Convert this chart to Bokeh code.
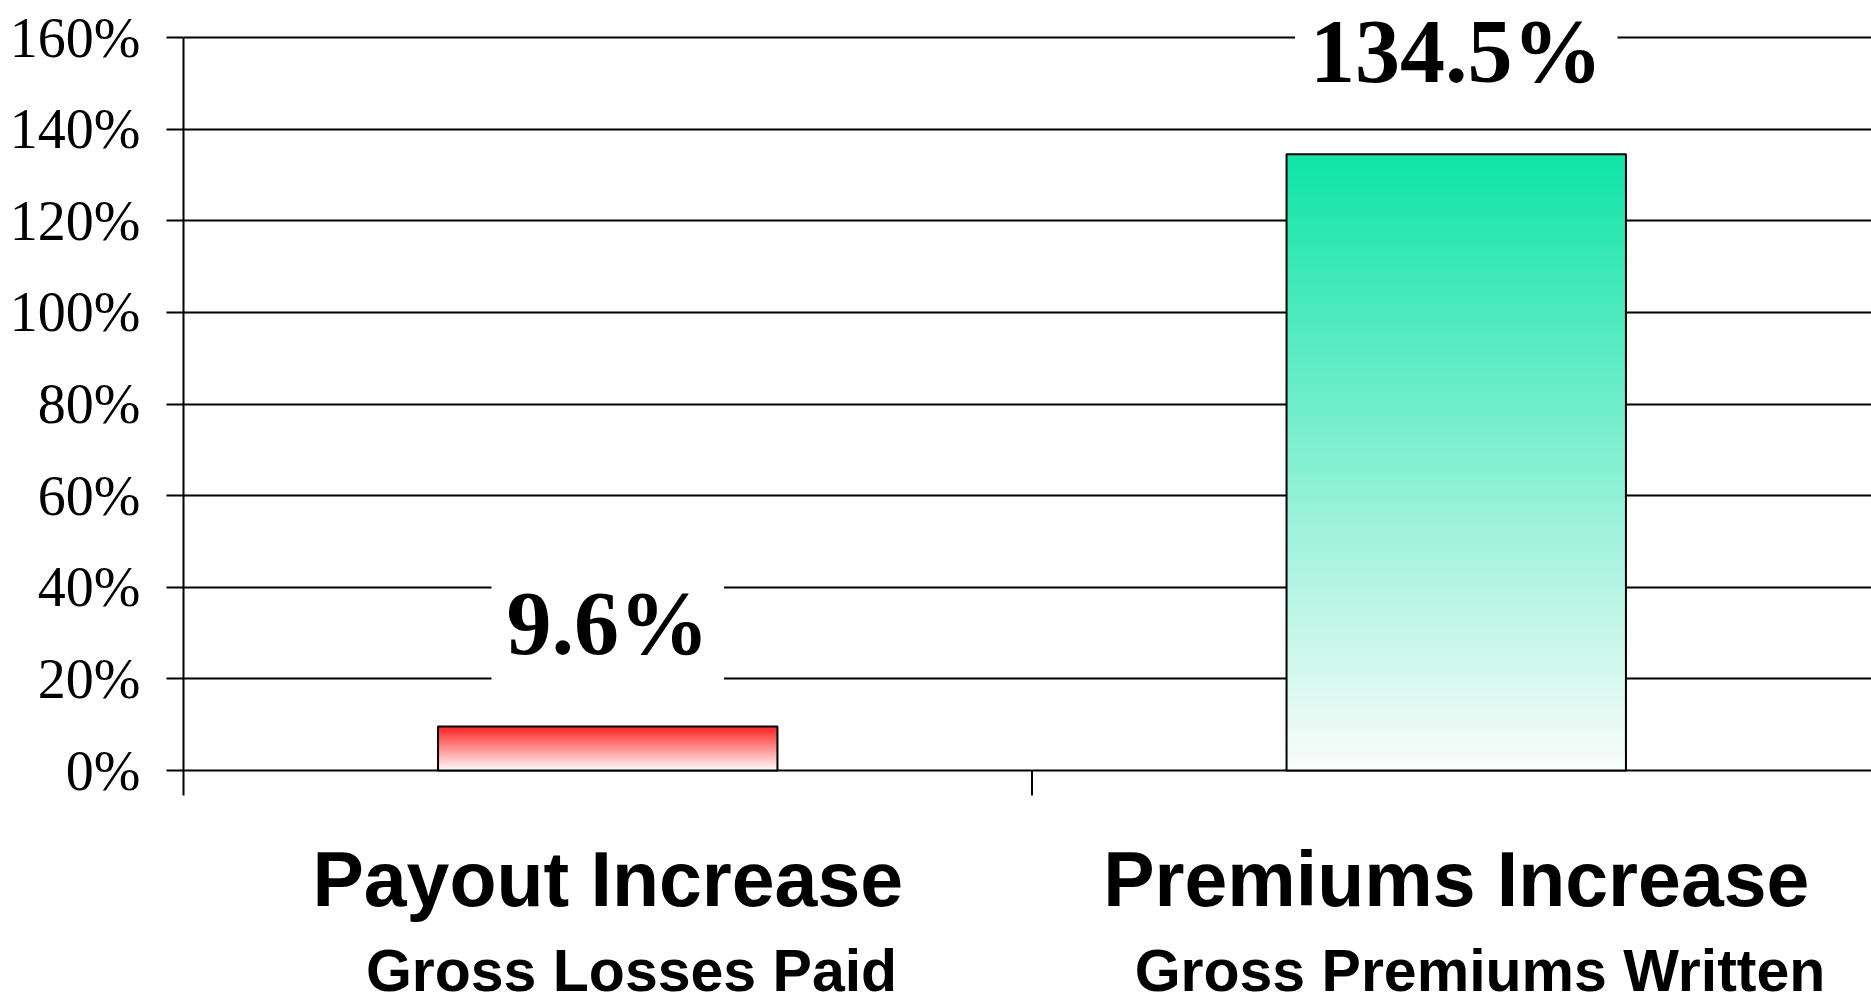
import numpy as np
from bokeh.plotting import figure
from bokeh.models import Range1d, FixedTicker, PrintfTickFormatter, ColumnDataSource
from bokeh.core.properties import value
from bokeh.embed import file_html
from bokeh.resources import INLINE

# ---- data ----
categories = ["Payout Increase", "Premiums Increase"]
subtitles = ["Gross Losses Paid", "Gross Premiums Written"]
increase_pct = [9.6, 134.5]
top_colors = [(255, 30, 30), (16, 228, 168)]
bottom_colors = [(255, 252, 252), (250, 252, 251)]
y_ticks = [0, 20, 40, 60, 80, 100, 120, 140, 160]

# ---- layout ----
W, H = 1871, 1005
LEFT = 183
ZERO_PX = 770            # screen row of the 0% line
TOP_PX = 37              # screen row of the 160% line
PX_PER_PCT = (ZERO_PX - TOP_PX) / y_ticks[-1]
Y_END = y_ticks[-1] + TOP_PX / PX_PER_PCT
Y_START = -(H - ZERO_PX) / PX_PER_PCT
X_END = 1.9894           # right edge of the frame, in category units
BAR_W = 0.4
SEP_TICK = 25            # length of the category separator ticks, px

centers = [i + 0.5 for i in range(len(categories))]
separators = list(range(1, len(categories)))
labels = [f"{v}%" for v in increase_pct]

p = figure(width=W, height=H, output_backend="svg", toolbar_location=None,
           x_range=Range1d(0, X_END), y_range=Range1d(Y_START, Y_END),
           min_border_left=LEFT, min_border_right=0, min_border_top=0,
           min_border_bottom=0, outline_line_color=None,
           background_fill_color="white", border_fill_color="white",
           x_axis_location=None)

# horizontal gridlines (the 0% line doubles as the category baseline)
p.xgrid.visible = False
p.ygrid.ticker = FixedTicker(ticks=y_ticks)
p.ygrid.grid_line_color = "black"
p.ygrid.grid_line_width = 2

# y axis, its line running on below 0% as the first separator tick
ya = p.yaxis[0]
ya.ticker = FixedTicker(ticks=y_ticks)
ya.formatter = PrintfTickFormatter(format="%d%%")
ya.bounds = (-SEP_TICK / PX_PER_PCT, y_ticks[-1])
ya.axis_line_width = 2
ya.major_tick_line_width = 2
ya.major_tick_out = 17
ya.major_tick_in = 0
ya.minor_tick_line_color = None
ya.major_label_standoff = 26
ya.major_label_text_font = "Liberation Serif"
ya.major_label_text_font_size = "56px"
ya.major_label_text_color = "black"

# separator ticks between categories
p.segment(x0=separators, y0=[0] * len(separators),
          x1=separators, y1=[-SEP_TICK / PX_PER_PCT] * len(separators),
          line_color="black", line_width=2)

# bars: vertical gradient fill as an RGBA image per bar, then outline
N = 256
for c, v, top, bot in zip(centers, increase_pct, top_colors, bottom_colors):
    img = np.empty((N, 2), dtype=np.uint32)
    view = img.view(dtype=np.uint8).reshape((N, 2, 4))
    t = np.linspace(0, 1, N)[:, None]
    for k in range(3):
        view[:, :, k] = np.round(bot[k] + (top[k] - bot[k]) * t).astype(np.uint8)
    view[:, :, 3] = 255
    p.image_rgba(image=[img], x=c - BAR_W / 2, y=0, dw=BAR_W, dh=v)

src = ColumnDataSource(dict(x=centers, top=increase_pct, label=labels))
p.vbar(x="x", top="top", width=BAR_W, bottom=0, source=src,
       fill_color=None, line_color="black", line_width=2)

# value labels on white boxes that break the gridlines
p.text(x="x", y="top", text="label", source=src,
       text_font=value("Liberation Serif"), text_font_style="bold",
       text_font_size="90px", text_color="black",
       text_align="center", text_baseline="middle", y_offset=-97,
       background_fill_color="white",
       padding=dict(left=15, right=15, top=0, bottom=12))

# category names and sub-captions below the baseline
cat_src = ColumnDataSource(dict(x=centers, y=[0] * len(centers), name=categories))
p.text(x="x", y="y", text="name", source=cat_src,
       text_font=value("Liberation Sans"), text_font_style="bold",
       text_font_size="77px", text_color="black",
       text_align="center", text_baseline="alphabetic", y_offset=108)

sub_shift = 0.028
sub_src = ColumnDataSource(dict(x=[c + sub_shift for c in centers],
                                y=[0] * len(centers), name=subtitles))
p.text(x="x", y="y", text="name", source=sub_src,
       text_font=value("Liberation Sans"), text_font_style="bold",
       text_font_size="59px", text_color="black",
       text_align="center", text_baseline="alphabetic", y_offset=200)

open("out.html", "w").write(file_html(p, INLINE))
